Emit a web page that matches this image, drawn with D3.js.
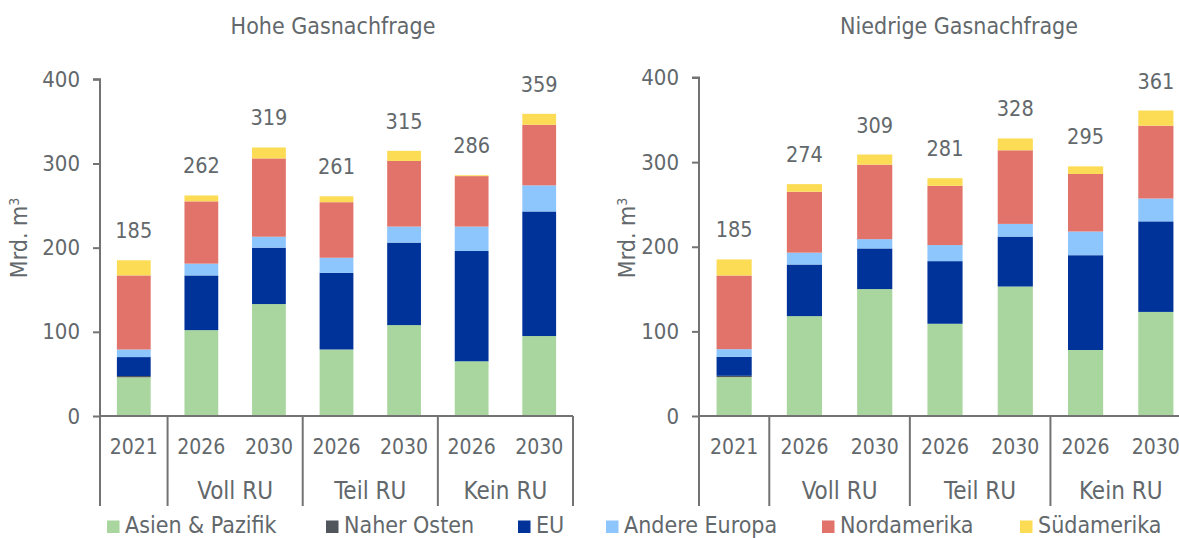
<!DOCTYPE html>
<html><head><meta charset="utf-8">
<script src="https://cdn.jsdelivr.net/npm/d3@7"></script>
<style>
body{margin:0;background:#fff;}
svg{display:block;}
text{font-family:"DejaVu Sans Condensed","DejaVu Sans",sans-serif;fill:#62686b;}
</style></head>
<body>
<svg id="chart" width="1179" height="538"></svg>
<script>
// ---- data ----
const categories = ["2021","2026","2030","2026","2030","2026","2030"];
const groupLabels = ["Voll RU","Teil RU","Kein RU"];
const seriesNames = ["Asien & Pazifik","Naher Osten","EU","Andere Europa","Nordamerika","Südamerika"];
const seriesColors = ["#a9d69e","#50565c","#003399","#8dc5fd","#e2736a","#fddc55"];
const yTicks = [0,100,200,300,400];

// Hohe Gasnachfrage
const hoheAsien   = [46, 102, 133, 79, 108, 65, 95];
const hoheNahost  = [1.5, 0, 0, 0, 0, 0, 0];
const hoheEU      = [22.5, 65, 67, 91, 98, 131, 148];
const hoheAndere  = [9, 14, 13, 18, 19, 29, 31];
const hoheNordam  = [88, 74, 93, 66, 78, 60, 72];
const hoheSuedam  = [18, 7, 13, 7, 12, 1, 13];
const hoheTotals  = [185, 262, 319, 261, 315, 286, 359];

// Niedrige Gasnachfrage
const niedAsien   = [46, 118, 150, 109, 153, 78, 123];
const niedNahost  = [1.5, 0, 0, 0, 0, 0, 0];
const niedEU      = [22.5, 61, 48, 74, 59, 112, 107];
const niedAndere  = [9, 14, 11, 19, 15, 28, 27];
const niedNordam  = [87, 72, 88, 70, 87, 68, 86];
const niedSuedam  = [19, 9, 12, 9, 14, 9, 18];
const niedTotals  = [185, 274, 309, 281, 328, 295, 361];

const svg = d3.select("#chart");
const axisColor = "#737373";
const FONT = '"DejaVu Sans Condensed","DejaVu Sans",sans-serif';

function drawPanel(cfg){
  const {title, titleX, x0, x1, yTop, yBottom, series, totals, yLabelX} = cfg;
  const g = svg.append("g");
  const idx = d3.range(categories.length);
  const x = d3.scaleBand().domain(idx).range([x0, x1]).paddingInner(0.5).paddingOuter(0.25);
  const y = d3.scaleLinear().domain([0, 400]).range([yBottom, yTop]);

  const rows = idx.map(i => {
    const r = {i};
    seriesNames.forEach((s, k) => r[s] = series[k][i]);
    return r;
  });
  const stack = d3.stack().keys(seriesNames)(rows);

  g.selectAll("g.layer").data(stack).join("g")
    .attr("fill", (d, k) => seriesColors[k])
    .selectAll("rect").data(d => d).join("rect")
    .attr("x", d => x(d.data.i))
    .attr("width", x.bandwidth())
    .attr("y", d => y(d[1]))
    .attr("height", d => Math.max(0, y(d[0]) - y(d[1])));

  // totals
  g.selectAll("text.total").data(idx).join("text")
    .attr("x", i => x(i) + x.bandwidth()/2)
    .attr("y", i => y(totals[i]) - 22)
    .attr("text-anchor", "middle")
    .style("font-size", "21.5px")
    .text(i => totals[i]);

  // y axis
  const yAxis = d3.axisLeft(y).tickValues(yTicks).tickSize(7).tickPadding(13);
  const ya = g.append("g").attr("transform", `translate(${x0},0)`).call(yAxis);
  ya.select(".domain").attr("stroke", axisColor).attr("stroke-width", 2).attr("d", `M-7,${y(400)}H0V${yBottom}`);
  ya.selectAll(".tick line").attr("stroke", axisColor).attr("stroke-width", 2);
  ya.selectAll(".tick text").style("font-size", "22px").attr("fill", "#62686b")
    .style("font-family", FONT);

  // x axis line
  g.append("line").attr("x1", x0).attr("x2", x1).attr("y1", yBottom).attr("y2", yBottom)
    .attr("stroke", axisColor).attr("stroke-width", 2);

  // separators
  const step = x.step();
  const seps = [0, 1, 3, 5, 7];
  g.selectAll("line.sep").data(seps).join("line")
    .attr("x1", k => x0 + k*step).attr("x2", k => x0 + k*step)
    .attr("y1", yBottom).attr("y2", yBottom + 90)
    .attr("stroke", axisColor).attr("stroke-width", 2);

  // category labels
  g.selectAll("text.cat").data(idx).join("text")
    .attr("x", i => x(i) + x.bandwidth()/2)
    .attr("y", yBottom + 38)
    .attr("text-anchor", "middle")
    .style("font-size", "21px")
    .text(i => categories[i]);

  // group labels
  groupLabels.forEach((lab, k) => {
    g.append("text")
      .attr("x", x0 + (1 + 2*k + 1)*step)
      .attr("y", yBottom + 83)
      .attr("text-anchor", "middle")
      .style("font-size", "24px")
      .text(lab);
  });

  // title
  g.append("text").attr("x", titleX).attr("y", 34).attr("text-anchor", "middle")
    .style("font-size", "23px").text(title);

  // y label
  const yl = g.append("text")
    .attr("transform", `translate(${yLabelX},238) rotate(-90)`)
    .attr("text-anchor", "middle")
    .style("font-size", "23px");
  yl.append("tspan").text("Mrd. m");
  yl.append("tspan").attr("dy", -8).style("font-size", "14px").text("3");
}

drawPanel({
  title: "Hohe Gasnachfrage", titleX: 333,
  x0: 100, x1: 573, yTop: 79.3, yBottom: 416,
  series: [hoheAsien, hoheNahost, hoheEU, hoheAndere, hoheNordam, hoheSuedam],
  totals: hoheTotals, yLabelX: 27
});
drawPanel({
  title: "Niedrige Gasnachfrage", titleX: 959,
  x0: 699, x1: 1191, yTop: 77.5, yBottom: 416,
  series: [niedAsien, niedNahost, niedEU, niedAndere, niedNordam, niedSuedam],
  totals: niedTotals, yLabelX: 635
});

// legend
const legendX = [107, 326, 518, 606, 822, 1020];
const lg = svg.append("g");
seriesNames.forEach((s, k) => {
  lg.append("rect").attr("x", legendX[k]).attr("y", 520.5).attr("width", 12.5).attr("height", 12.5)
    .attr("fill", seriesColors[k]);
  lg.append("text").attr("x", legendX[k] + 18).attr("y", 533)
    .style("font-size", "23px").text(s);
});
</script>
</body></html>
